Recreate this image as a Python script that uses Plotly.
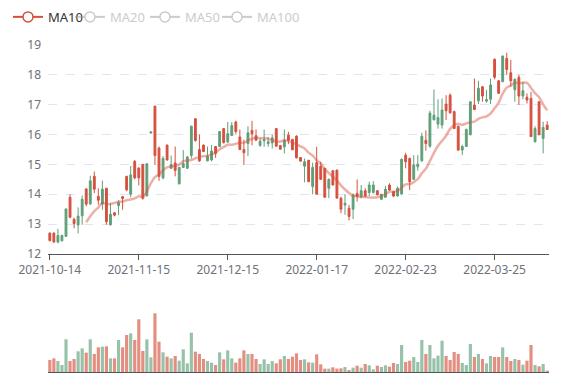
import plotly.graph_objects as go
import pandas as pd

# trading calendar (China A-share holidays in range)
holidays = ['2022-01-03', '2022-01-31', '2022-02-01', '2022-02-02', '2022-02-03',
            '2022-02-04', '2022-04-04', '2022-04-05']
dates = [d.strftime('%Y-%m-%d') for d in
         pd.bdate_range('2021-10-14', '2022-04-15', freq='C', holidays=holidays)]

tick_labels = ['2021-10-14', '2021-11-15', '2021-12-15', '2022-01-17', '2022-02-23', '2022-03-25']

opens = [12.70, 12.70, 12.40, 12.44, 12.59, 13.90, 13.16, 12.97, 13.28, 14.18,
         13.68, 14.60, 13.93, 13.67, 14.20, 12.98, 13.38, 13.62, 13.92, 14.60,
         14.00, 15.10, 14.88, 15.00, 13.95, 16.05, 16.95, 15.55, 14.55, 15.65,
         14.87, 15.05, 14.35, 14.90, 14.87, 15.30, 16.53, 15.50, 15.65, 15.12,
         15.15, 15.60, 15.60, 16.20, 15.75, 15.97, 16.42, 15.92, 15.50, 15.70,
         16.14, 15.96, 15.64, 15.79, 15.70, 15.72, 16.20, 15.63, 15.59, 15.98,
         15.84, 15.94, 15.23, 14.94, 15.14, 14.26, 15.06, 14.94, 14.87, 14.20,
         14.79, 14.81, 13.87, 13.64, 13.53, 13.50, 14.03, 13.92, 14.12, 14.06,
         14.06, 14.12, 13.83, 13.90, 14.31, 14.09, 13.94, 14.01, 15.31, 15.20,
         14.50, 14.92, 15.12, 15.81, 15.61, 16.49, 16.35, 16.32, 17.02, 17.32,
         16.77, 16.28, 15.48, 15.60, 15.99, 16.99, 17.13, 17.60, 17.12, 17.18,
         18.52, 17.80, 17.77, 18.55, 18.07, 17.50, 17.92, 17.29, 17.25, 17.21,
         15.76, 17.10, 15.87, 16.32]
highs = [12.72, 12.72, 12.84, 12.65, 13.52, 14.00, 13.22, 13.56, 13.96, 14.20,
         14.62, 14.76, 14.20, 14.46, 14.22, 13.70, 13.40, 13.80, 13.94, 14.62,
         14.95, 15.15, 14.90, 15.02, 15.05, 16.10, 16.97, 15.60, 15.28, 15.66,
         15.30, 15.60, 14.92, 15.48, 15.28, 16.30, 16.55, 16.00, 15.66, 15.60,
         15.65, 15.62, 16.12, 16.21, 16.42, 16.42, 16.47, 16.17, 15.83, 16.28,
         16.46, 16.17, 15.87, 16.17, 15.92, 16.00, 16.21, 15.64, 16.17, 16.09,
         15.85, 15.98, 15.24, 15.20, 15.15, 15.06, 15.59, 15.09, 14.88, 14.53,
         14.81, 14.82, 13.92, 14.00, 13.64, 14.03, 14.50, 14.31, 14.20, 14.42,
         14.44, 14.13, 14.01, 14.28, 14.37, 14.10, 14.26, 15.20, 15.39, 15.23,
         15.31, 15.31, 16.06, 16.14, 16.80, 17.51, 17.18, 17.21, 17.32, 17.38,
         16.80, 16.30, 15.66, 16.20, 17.10, 17.88, 17.80, 17.63, 17.50, 17.88,
         18.55, 17.83, 18.65, 18.74, 18.50, 17.88, 18.00, 17.77, 17.38, 17.43,
         16.28, 17.11, 16.43, 16.45]
lows = [12.42, 12.38, 12.36, 12.42, 12.57, 13.20, 12.86, 12.69, 12.98, 13.60,
        13.64, 14.04, 13.65, 13.48, 12.98, 12.95, 13.26, 13.30, 13.48, 14.10,
        13.90, 14.50, 14.30, 13.82, 13.92, 16.04, 14.98, 14.45, 14.50, 15.13,
        14.85, 14.60, 14.33, 14.88, 14.85, 15.20, 15.76, 15.08, 15.42, 15.10,
        15.10, 15.22, 15.58, 15.70, 15.73, 15.95, 16.03, 15.48, 14.98, 15.28,
        15.64, 15.80, 15.59, 15.59, 15.59, 15.53, 15.60, 15.50, 15.37, 15.68,
        15.49, 15.20, 15.10, 14.40, 14.42, 14.00, 14.00, 14.48, 13.90, 13.87,
        14.30, 13.87, 13.37, 13.31, 13.12, 13.17, 13.76, 13.87, 13.90, 13.94,
        14.03, 13.97, 13.82, 13.89, 14.12, 13.90, 13.93, 13.98, 14.87, 14.14,
        14.49, 14.79, 15.09, 15.46, 15.56, 16.49, 16.20, 16.20, 16.49, 16.70,
        16.20, 15.45, 15.31, 15.60, 15.99, 16.82, 17.02, 17.10, 17.07, 17.02,
        17.85, 17.38, 17.77, 18.00, 17.60, 17.10, 16.99, 17.18, 17.04, 15.93,
        15.73, 15.99, 15.37, 16.17]
closes = [12.45, 12.40, 12.62, 12.62, 13.51, 13.23, 13.02, 13.27, 13.83, 13.67,
          14.45, 14.17, 13.80, 14.17, 13.08, 13.33, 13.30, 13.72, 13.86, 14.15,
          14.65, 14.55, 14.55, 13.87, 15.02, 16.09, 15.30, 14.60, 15.20, 15.15,
          15.00, 14.80, 14.90, 15.03, 15.25, 16.28, 15.80, 15.12, 15.43, 15.28,
          15.45, 15.37, 16.10, 15.73, 16.03, 16.30, 16.10, 15.50, 15.39, 16.06,
          16.03, 15.81, 15.78, 15.83, 15.76, 15.89, 15.61, 15.51, 15.81, 15.81,
          15.49, 15.22, 15.11, 15.09, 14.42, 14.90, 14.00, 14.50, 13.90, 14.50,
          14.31, 13.87, 13.50, 13.70, 13.26, 13.98, 13.92, 14.12, 13.94, 14.31,
          14.31, 13.98, 14.00, 14.17, 14.14, 13.94, 14.20, 15.17, 15.09, 14.42,
          14.98, 15.01, 15.94, 15.70, 16.72, 16.65, 16.57, 16.82, 16.80, 16.73,
          16.20, 15.48, 15.60, 16.17, 17.10, 16.84, 17.55, 17.29, 17.17, 17.66,
          17.92, 17.38, 18.63, 18.18, 17.80, 17.85, 17.29, 17.47, 17.16, 15.93,
          16.20, 15.99, 16.24, 16.17]
volumes = [36, 41, 33, 21, 98, 33, 39, 62, 71, 58,
           98, 54, 74, 76, 77, 41, 41, 96, 74, 111,
           116, 96, 158, 63, 98, 44, 176, 91, 59, 46,
           41, 48, 34, 68, 26, 118, 61, 54, 39, 33,
           28, 21, 59, 38, 65, 41, 28, 41, 65, 54,
           54, 39, 24, 38, 24, 33, 26, 38, 48, 39,
           46, 56, 36, 38, 29, 28, 53, 23, 10, 10,
           14, 10, 11, 15, 6, 13, 19, 13, 24, 20,
           8, 19, 15, 20, 16, 27, 24, 81, 30, 34,
           45, 30, 96, 54, 81, 41, 49, 94, 48, 36,
           60, 54, 27, 21, 84, 45, 54, 39, 26, 48,
           45, 45, 74, 45, 33, 39, 36, 22, 34, 81,
           21, 17, 24, 4]


def moving_average(values, n):
    out = []
    for i in range(len(values)):
        if i < n - 1:
            out.append(None)
        else:
            out.append(round(sum(values[i - n + 1:i + 1]) / n, 3))
    return out


ma10 = moving_average(closes, 10)
ma20 = moving_average(closes, 20)
ma50 = moving_average(closes, 50)
ma100 = moving_average(closes, 100)

RED = '#d6503e'
GREEN = '#5f9f79'
vol_colors = ['rgba(95,159,121,0.65)' if c >= o else 'rgba(214,80,62,0.65)'
              for o, c in zip(opens, closes)]

FONT = 'Noto Sans'
fig = go.Figure()

fig.add_trace(go.Candlestick(
    x=dates, open=opens, high=highs, low=lows, close=closes,
    increasing=dict(line=dict(color=GREEN, width=1), fillcolor=GREEN),
    decreasing=dict(line=dict(color=RED, width=1), fillcolor=RED),
    whiskerwidth=0, showlegend=False, hoverinfo='skip',
    xaxis='x', yaxis='y'))

fig.add_trace(go.Scatter(
    x=dates, y=ma10, mode='lines', line=dict(color='rgba(214,80,62,0.45)', width=2.5, shape='spline'),
    showlegend=False, hoverinfo='skip', xaxis='x', yaxis='y'))

# legend entries
fig.add_trace(go.Scatter(
    x=[None], y=[None], name='MA10', mode='lines+markers',
    line=dict(color=RED, width=2),
    marker=dict(symbol='circle', size=10, color='white', line=dict(color=RED, width=1.5)),
    legend='legend', xaxis='x', yaxis='y'))
for nm, vals, lg in [('MA20', ma20, 'legend2'), ('MA50', ma50, 'legend3'), ('MA100', ma100, 'legend4')]:
    fig.add_trace(go.Scatter(
        x=dates, y=vals, name=nm, mode='lines+markers', visible='legendonly',
        line=dict(color='#999999', width=2),
        marker=dict(symbol='circle', size=10, color='white', line=dict(color='#999999', width=1.5)),
        legend=lg, xaxis='x', yaxis='y'))

fig.add_trace(go.Bar(
    x=dates, y=volumes, marker=dict(color=vol_colors, line=dict(width=0)),
    showlegend=False, hoverinfo='skip', xaxis='x2', yaxis='y2'))

# the page body adds an 8px offset, so the figure is 8px smaller than the window
W, H = 569, 372
left, right, top, bottom = 40, 28, 37, 8
ph = H - top - bottom
xr = [-0.45, len(dates) - 0.55]
LY = 0.976


def leg(x, color):
    return dict(orientation='h', xref='container', yref='container', x=x, y=LY,
                xanchor='left', yanchor='middle', font=dict(size=13, color=color),
                bgcolor='rgba(0,0,0,0)', itemwidth=30)


fig.update_layout(
    width=W, height=H,
    margin=dict(l=left, r=right, t=top, b=bottom, autoexpand=False),
    paper_bgcolor='white', plot_bgcolor='white',
    font=dict(family=FONT, size=12, color='#6E7079'),
    boxgap=0.35, bargap=0.22,
    xaxis=dict(type='category', range=xr, domain=[0, 1], anchor='y',
               tickmode='array', tickvals=tick_labels, ticktext=tick_labels,
               ticks='outside', ticklen=5, tickcolor='#555', showline=True,
               linecolor='#555', linewidth=1, showgrid=False, zeroline=False,
               rangeslider=dict(visible=False), tickfont=dict(size=12, color='#6E7079')),
    yaxis=dict(domain=[118 / ph, 1], range=[12, 19], dtick=1,
               showline=False, ticks='', gridcolor='#E0E6F1', griddash='dash',
               zeroline=False, tickfont=dict(size=12, color='#6E7079'),
               ticklabelstandoff=6),
    xaxis2=dict(type='category', range=xr, domain=[0, 1], anchor='y2', matches='x',
                showticklabels=False, ticks='', showline=True, linecolor='#555',
                showgrid=False, zeroline=False),
    yaxis2=dict(domain=[0, 72 / ph], range=[0, 216], visible=False),
    legend=leg(0.0, '#333'),
    legend2=leg(0.1089, '#999'),
    legend3=leg(0.2407, '#999'),
    legend4=leg(0.3673, '#999'),
    showlegend=True,
)

fig.write_html('out.html')
